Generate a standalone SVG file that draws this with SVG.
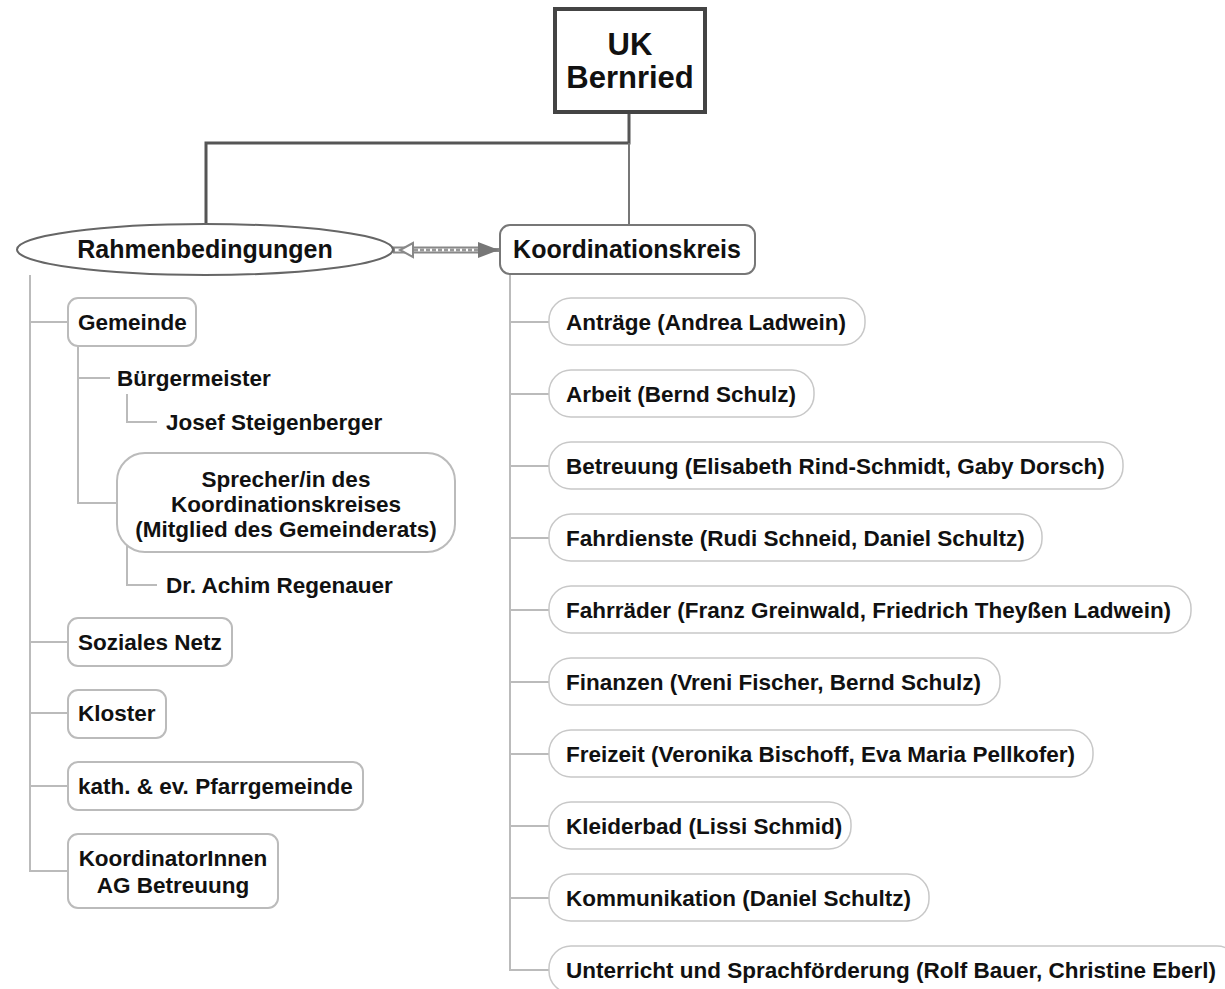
<svg xmlns="http://www.w3.org/2000/svg" width="1225" height="989" viewBox="0 0 1225 989">
<style>
text{font-family:"Liberation Sans",Arial,sans-serif;font-weight:bold;fill:#111;}
.t22{font-size:22.5px;}
.t25{font-size:25px;}
.mid{text-anchor:middle;}
.box{fill:#fff;stroke:#bbb;stroke-width:2;}
.pill{fill:#fff;stroke:#c8c8c8;stroke-width:1.5;}
.lt{fill:none;stroke:#bbb;stroke-width:2;}
.dk{fill:none;stroke:#555;stroke-width:3;}
.md{fill:none;stroke:#777;stroke-width:2;}
</style>
<rect width="1225" height="989" fill="#fff"/>
<g id="connectors">
<polyline class="dk" points="629,113 629,143 206,143 206,224"/>
<line class="md" x1="629" y1="143" x2="629" y2="224"/>
<line x1="393" y1="250" x2="480" y2="250" stroke="#888" stroke-width="7"/>
<line x1="395" y1="250" x2="480" y2="250" stroke="#fff" stroke-width="3"/>
<line x1="414" y1="250" x2="480" y2="250" stroke="#999" stroke-width="3" stroke-dasharray="4 2"/>
<line x1="480" y1="250" x2="500" y2="250" stroke="#888" stroke-width="4"/>
<path d="M413,243 L400,250 L413,257 Z" fill="#fff" stroke="#888" stroke-width="2"/>
<path d="M478,242 L499,250 L478,258 Z" fill="#777"/>
<polyline class="lt" points="30,275 30,871 68,871"/>
<line class="lt" x1="30" y1="322" x2="68" y2="322"/>
<line class="lt" x1="30" y1="642" x2="68" y2="642"/>
<line class="lt" x1="30" y1="713" x2="68" y2="713"/>
<line class="lt" x1="30" y1="786" x2="68" y2="786"/>
<polyline class="lt" points="78,346 78,503 117,503"/>
<line class="lt" x1="78" y1="378" x2="110" y2="378"/>
<polyline class="lt" points="127,394 127,422 157,422"/>
<polyline class="lt" points="127,545 127,585 157,585"/>
<polyline class="lt" points="510,274 510,970 549,970"/>
<line class="lt" x1="510" y1="322" x2="549" y2="322"/>
<line class="lt" x1="510" y1="394" x2="549" y2="394"/>
<line class="lt" x1="510" y1="466" x2="549" y2="466"/>
<line class="lt" x1="510" y1="538" x2="549" y2="538"/>
<line class="lt" x1="510" y1="610" x2="549" y2="610"/>
<line class="lt" x1="510" y1="682" x2="549" y2="682"/>
<line class="lt" x1="510" y1="754" x2="549" y2="754"/>
<line class="lt" x1="510" y1="826" x2="549" y2="826"/>
<line class="lt" x1="510" y1="898" x2="549" y2="898"/>
</g>
<g id="uk-bernried">
<rect x="555" y="9" width="150" height="103" fill="#fff" stroke="#444" stroke-width="4"/>
<text x="630" y="55" class="mid" style="font-size:31px">UK</text>
<text x="630" y="88" class="mid" style="font-size:31px">Bernried</text>
</g>
<g id="rahmenbedingungen">
<ellipse cx="205" cy="249.5" rx="188" ry="25.5" fill="#fff" stroke="#666" stroke-width="2"/>
<text x="205" y="258" class="t25 mid">Rahmenbedingungen</text>
</g>
<g id="koordinationskreis">
<rect x="500" y="225" width="255" height="49" rx="10" fill="#fff" stroke="#777" stroke-width="2"/>
<text x="627" y="258" class="t25 mid">Koordinationskreis</text>
</g>
<g id="gemeinde">
<rect class="box" x="68" y="298" width="128" height="48" rx="10"/>
<text x="78" y="330" class="t22">Gemeinde</text>
</g>
<g id="buergermeister">
<text x="117" y="386" class="t22">Bürgermeister</text>
</g>
<g id="josef-steigenberger">
<text x="166" y="430" class="t22">Josef Steigenberger</text>
</g>
<g id="sprecher">
<rect class="box" x="117" y="453" width="338" height="99" rx="28"/>
<text x="286" y="487" class="t22 mid">Sprecher/in des</text>
<text x="286" y="512" class="t22 mid">Koordinationskreises</text>
<text x="286" y="537" class="t22 mid">(Mitglied des Gemeinderats)</text>
</g>
<g id="achim-regenauer">
<text x="166" y="593" class="t22">Dr. Achim Regenauer</text>
</g>
<g id="soziales-netz">
<rect class="box" x="68" y="618" width="164" height="48" rx="10"/>
<text x="78" y="650" class="t22">Soziales Netz</text>
</g>
<g id="kloster">
<rect class="box" x="68" y="690" width="98" height="48" rx="10"/>
<text x="78" y="721" class="t22">Kloster</text>
</g>
<g id="pfarrgemeinde">
<rect class="box" x="68" y="762" width="295" height="48" rx="10"/>
<text x="78" y="794" class="t22">kath. &amp; ev. Pfarrgemeinde</text>
</g>
<g id="koordinatorinnen">
<rect class="box" x="68" y="834" width="210" height="74" rx="10"/>
<text x="173" y="866" class="t22 mid">KoordinatorInnen</text>
<text x="173" y="893" class="t22 mid">AG Betreuung</text>
</g>
<g id="antraege">
<rect class="pill" x="549" y="298" width="316" height="47" rx="22"/>
<text x="566" y="330" class="t22">Anträge (Andrea Ladwein)</text>
</g>
<g id="arbeit">
<rect class="pill" x="549" y="370" width="265" height="47" rx="22"/>
<text x="566" y="402" class="t22">Arbeit (Bernd Schulz)</text>
</g>
<g id="betreuung">
<rect class="pill" x="549" y="442" width="574" height="47" rx="22"/>
<text x="566" y="474" class="t22">Betreuung (Elisabeth Rind-Schmidt, Gaby Dorsch)</text>
</g>
<g id="fahrdienste">
<rect class="pill" x="549" y="514" width="493" height="47" rx="22"/>
<text x="566" y="546" class="t22">Fahrdienste (Rudi Schneid, Daniel Schultz)</text>
</g>
<g id="fahrraeder">
<rect class="pill" x="549" y="586" width="642" height="47" rx="22"/>
<text x="566" y="618" class="t22">Fahrräder (Franz Greinwald, Friedrich Theyßen Ladwein)</text>
</g>
<g id="finanzen">
<rect class="pill" x="549" y="658" width="451" height="47" rx="22"/>
<text x="566" y="690" class="t22">Finanzen (Vreni Fischer, Bernd Schulz)</text>
</g>
<g id="freizeit">
<rect class="pill" x="549" y="730" width="544" height="47" rx="22"/>
<text x="566" y="762" class="t22">Freizeit (Veronika Bischoff, Eva Maria Pellkofer)</text>
</g>
<g id="kleiderbad">
<rect class="pill" x="549" y="802" width="302" height="47" rx="22"/>
<text x="566" y="834" class="t22">Kleiderbad (Lissi Schmid)</text>
</g>
<g id="kommunikation">
<rect class="pill" x="549" y="874" width="380" height="47" rx="22"/>
<text x="566" y="906" class="t22">Kommunikation (Daniel Schultz)</text>
</g>
<g id="unterricht">
<rect class="pill" x="549" y="946" width="690" height="47" rx="22"/>
<text x="566" y="978" class="t22">Unterricht und Sprachförderung (Rolf Bauer, Christine Eberl)</text>
</g>
</svg>
